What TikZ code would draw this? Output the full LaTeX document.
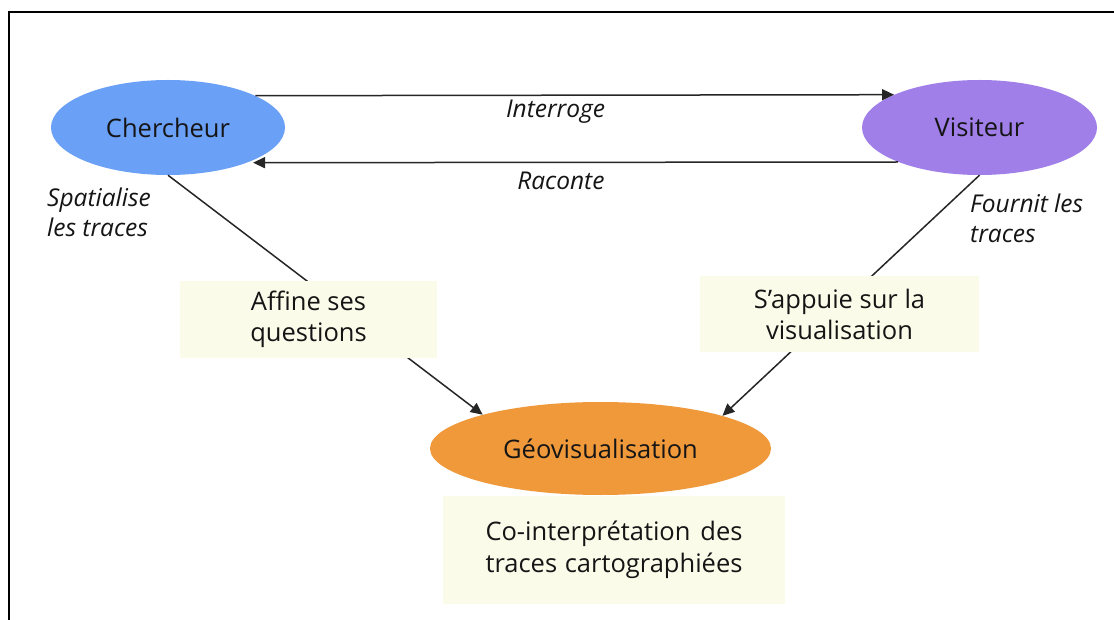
\documentclass[tikz,border=0pt]{standalone}
\usepackage{fontspec}
\setmainfont{Open Sans}
\usetikzlibrary{shapes.geometric,arrows.meta}
\definecolor{cblue}{HTML}{6AA0F6}
\definecolor{cpurple}{HTML}{A07FE9}
\definecolor{corange}{HTML}{F0993B}
\definecolor{ccream}{HTML}{FBFBEA}
\definecolor{ctext}{HTML}{151515}
\begin{document}
\begin{tikzpicture}[x=1pt,y=-1pt,
  blob/.style={ellipse,inner sep=0pt,text=ctext,font=\fontsize{25.5}{30}\selectfont},
  notebox/.style={fill=ccream,inner sep=0pt,text=ctext,align=center,font=\fontsize{25.5}{31}\selectfont},
  itlabel/.style={inner sep=0pt,text=ctext,font=\fontsize{24.5}{30}\selectfont\itshape},
  conn/.style={draw=black!85,line width=1.5pt},
  arr/.style={conn,-{Triangle[length=12pt,width=11pt]}}]
\useasboundingbox (0,0) rectangle (1114,620);
\fill[white] (0,0) rectangle (1114,620);
\draw[line width=2pt] (1116,12) -- (9,12) -- (9,622);
% ellipses
\node[blob,fill=cblue,minimum width=234pt,minimum height=95pt] (cher) at (168,127.5) {Chercheur};
\node[blob,fill=cpurple,minimum width=235pt,minimum height=95pt] (vis) at (979.5,127.5) {Visiteur};
\node[blob,fill=corange,minimum width=341pt,minimum height=93pt] (geo) at (600.5,448.5) {Géovisualisation};
% connectors
\draw[arr] (cher.20.9) -- node[pos=.47,anchor=north,yshift=-4pt,itlabel]{Interroge} (vis.159.1);
\draw[arr,shorten >=6pt] (vis.203.2) -- node[pos=.518,anchor=north,yshift=-9pt,itlabel]{Raconte} (cher.336.8);
\draw[arr] (cher.south) -- (geo.164.5);
\draw[arr] (vis.south) -- (geo.15.3);
% boxes
\node[notebox,minimum width=257pt,minimum height=77pt] (affine) at (308.5,319.5) {Affine ses\\questions};
\node[notebox,minimum width=279pt,minimum height=76pt] (appuie) at (839.5,314) {S’appuie sur la\\visualisation};
\node[notebox,minimum width=342pt,minimum height=108pt,font=\fontsize{25.5}{32}\selectfont] (coint) at (614,550) {\makebox[257pt][s]{Co-interprétation des}\\\makebox[257pt][s]{traces cartographiées}};
% side labels
\node[itlabel,anchor=north west,align=left] (spat) at (47,188) {Spatialise\\les traces};
\node[itlabel,anchor=north west,align=left] (fourn) at (970,194) {Fournit les\\traces};
\end{tikzpicture}
\end{document}
